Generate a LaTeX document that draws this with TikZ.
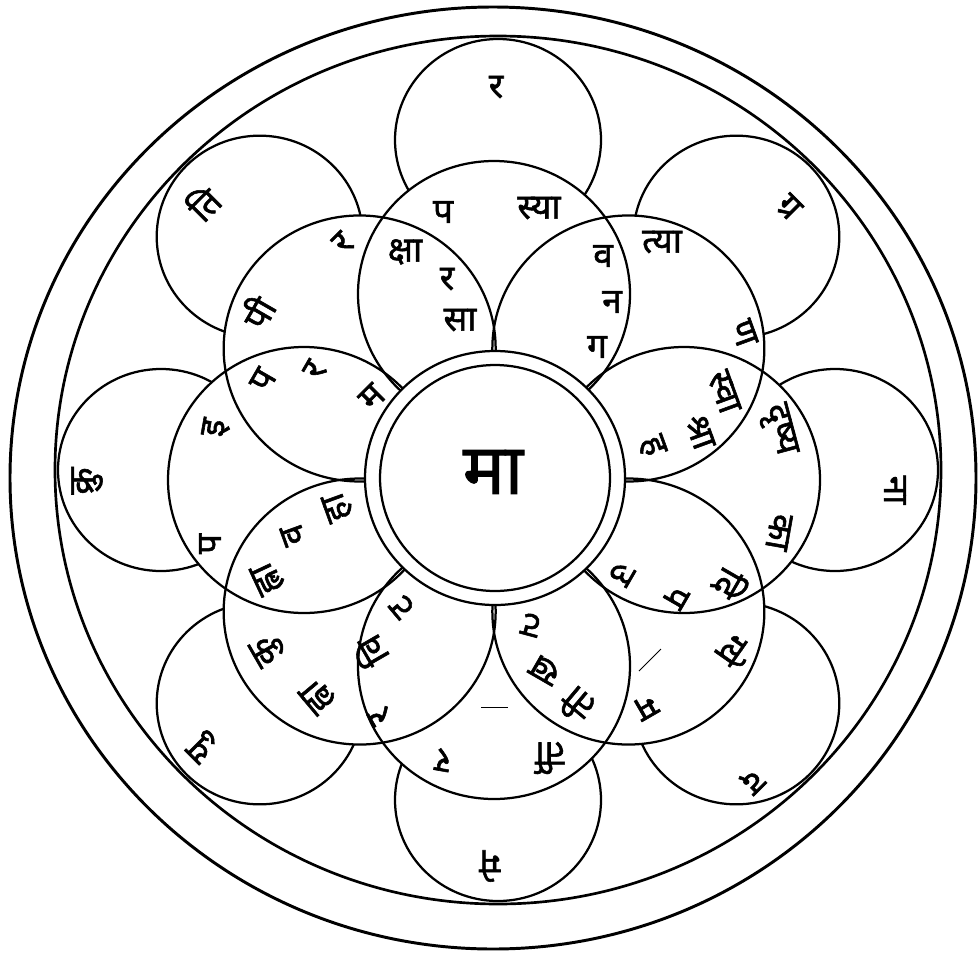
\documentclass[tikz,border=0pt]{standalone}
\usepackage{fontspec}
\newfontfamily\deva[Script=Devanagari,AutoFakeBold=1.6]{Noto Sans}
\tikzset{
  akshar/.style={font=\deva\bfseries\fontsize{25}{25}\selectfont, inner sep=0pt},
  bija/.style={font=\deva\bfseries\fontsize{50}{50}\selectfont, inner sep=0pt},
}

\begin{document}
\begin{tikzpicture}[x=0.025cm,y=-0.025cm,line width=1.6pt]
\useasboundingbox (0,0) rectangle (979,954);
% eight small circles on the rim
\foreach \a in {0,45,...,315}
  \draw ({498+337*cos(\a)},{470-330*sin(\a)}) ellipse [x radius=103, y radius=101];
% eight petals, blanked first so the rim circles stop at their edge
\foreach \a in {0,45,...,315}
  \fill[white] ({494+190*cos(\a)},{480-186*sin(\a)}) ellipse [x radius=136, y radius=133];
\foreach \a in {0,45,...,315}
  \draw ({494+190*cos(\a)},{480-186*sin(\a)}) ellipse [x radius=136, y radius=133];
% centre: double ring
\filldraw[fill=white] (495,478) ellipse [x radius=130, y radius=127];
\draw (495,478) ellipse [x radius=115, y radius=113];
% two outer rings
\draw[line width=2.1pt] (493,478) ellipse [x radius=483, y radius=471];
\draw[line width=1.9pt] (498,470) ellipse [x radius=443, y radius=434];
% stray marks
\draw[line width=0.6pt] (481,707) -- (508,707);
\draw[line width=0.6pt] (639,671) -- (661,649);
% letters
\node[bija] (ma) at (493,472) {मा};
\foreach \x/\y/\r/\t [count=\i] in {
  496/87/0/र, 443/212/0/प, 539/208/0/स्या, 405/252/0/क्षा, 447/279/0/र,
  460/320/0/सा, 603/256/0/व, 612/302/0/न, 597/347/0/ग, 662/242/0/त्या,
  789/207/-45/ग्र, 744/333/-70/ण, 724/392/-70/स्वा, 700/432/-70/श्रा,
  652/446/-70/ह, 778/430/-75/दृष्य, 779/532/-100/का, 895/490/-90/ना,
  730/584/-120/दि, 676/597/-120/प, 622/574/-120/उ, 734/651/-125/ग्ये,
  646/707/-150/म, 752/781/-135/द, 531/625/165/ट, 545/670/150/ख,
  577/705/140/ती, 550/758/180/र्ती, 443/760/170/र, 490/866/180/मे,
  402/607/130/ट, 370/652/120/वि, 380/716/120/र, 338/507/110/हा,
  293/535/110/व, 268/578/115/ह्ला, 268/650/120/कु, 318/696/130/ह्वा,
  203/747/135/यु, 210/544/90/प, 216/428/80/इ, 87/481/90/क्रु,
  257/312/60/पी, 263/380/60/प, 315/370/60/र, 372/397/45/म,
  343/243/45/र, 203/203/45/ति}
  \node[akshar, rotate=\r] (l\i) at (\x,\y) {\t};
\end{tikzpicture}
\end{document}
